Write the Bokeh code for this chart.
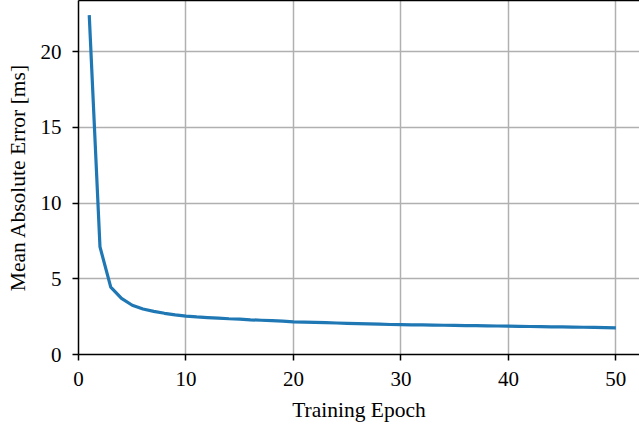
from bokeh.plotting import figure
from bokeh.models import LinearAxis, FixedTicker, Range1d
from bokeh.embed import file_html
from bokeh.resources import INLINE

epochs = list(range(1, 51))
mae = [22.4, 7.1, 4.45, 3.7, 3.25, 3.0, 2.85, 2.72, 2.62, 2.53,
       2.48, 2.44, 2.40, 2.36, 2.33, 2.29, 2.26, 2.23, 2.20, 2.16,
       2.14, 2.12, 2.10, 2.08, 2.06, 2.04, 2.02, 2.00, 1.98, 1.97,
       1.96, 1.95, 1.94, 1.93, 1.92, 1.91, 1.90, 1.89, 1.88, 1.87,
       1.86, 1.85, 1.84, 1.83, 1.82, 1.81, 1.80, 1.79, 1.78, 1.76]
x_ticks = [0, 10, 20, 30, 40, 50]
y_ticks = [0, 5, 10, 15, 20]

FONT = "Liberation Serif"

p = figure(width=639, height=424, output_backend="svg", toolbar_location=None,
           x_range=Range1d(0, 52.2), y_range=Range1d(0, 23.37),
           x_axis_label="Training Epoch", y_axis_label="Mean Absolute Error [ms]",
           min_border_left=78, min_border_right=0, min_border_top=0, min_border_bottom=70)
p.outline_line_color = None
p.background_fill_color = "white"
p.border_fill_color = "white"

p.line(epochs, mae, line_color="#1f77b4", line_width=3.2)

for ax in (p.xaxis[0], p.yaxis[0]):
    ax.axis_line_color = "black"
    ax.axis_line_width = 1.5
    ax.major_tick_line_color = "black"
    ax.major_tick_line_width = 1.5
    ax.major_tick_out = 6
    ax.major_tick_in = 0
    ax.minor_tick_line_color = None
    ax.major_label_text_font = FONT
    ax.major_label_text_font_size = "21px"
    ax.major_label_text_color = "black"
    ax.axis_label_text_font = FONT
    ax.axis_label_text_font_size = "21.5px"
    ax.axis_label_text_font_style = "normal"
    ax.axis_label_text_color = "black"

p.xaxis[0].ticker = FixedTicker(ticks=x_ticks)
p.yaxis[0].ticker = FixedTicker(ticks=y_ticks)
p.xaxis[0].major_label_standoff = 11
p.yaxis[0].major_label_standoff = 11
p.xaxis[0].axis_label_standoff = 9
p.yaxis[0].axis_label_standoff = 8

top = LinearAxis(ticker=FixedTicker(ticks=[]), axis_line_color="black", axis_line_width=1.5,
                 major_tick_line_color=None, minor_tick_line_color=None,
                 major_label_text_font_size="0px")
p.add_layout(top, "above")

p.xgrid.ticker = FixedTicker(ticks=x_ticks)
p.ygrid.ticker = FixedTicker(ticks=y_ticks)
p.grid.grid_line_color = "#b0b0b0"
p.grid.grid_line_width = 1.5

open("out.html", "w").write(file_html(p, INLINE))
